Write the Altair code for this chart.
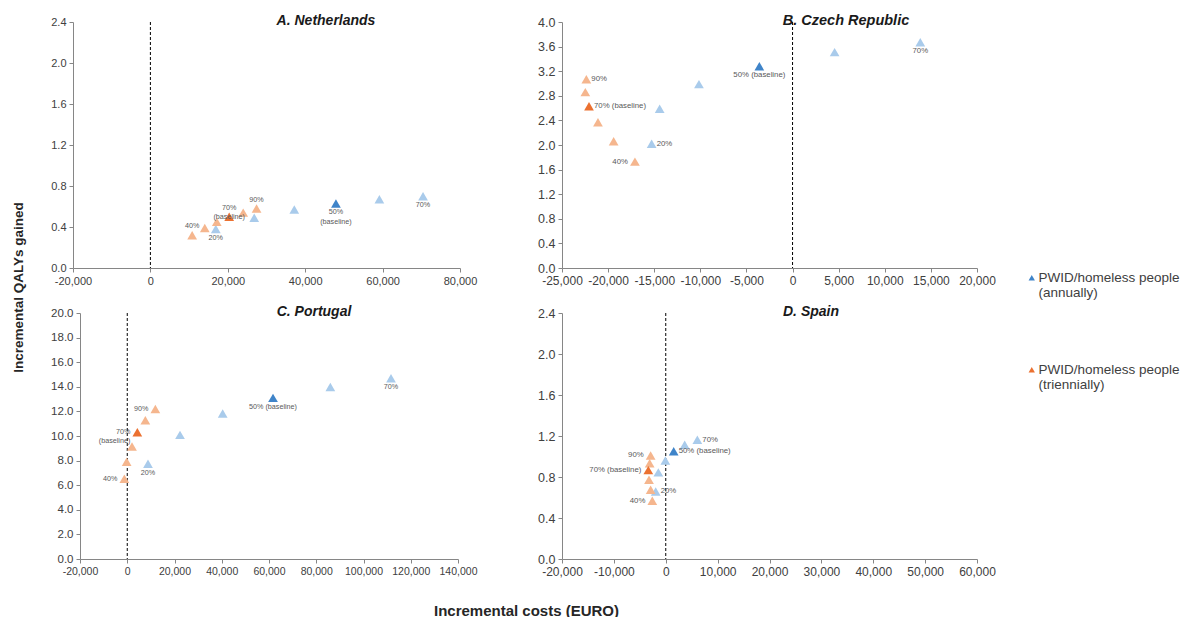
import altair as alt
import pandas as pd

FONT = "Liberation Sans"

# ---------------- data ----------------
panel_titles = ["A. Netherlands", "B. Czech Republic", "C. Portugal", "D. Spain"]
series_names = ["annually", "triennially"]

# Netherlands
nl_annual_cost = [16900, 26830, 37180, 47940, 59170, 70450]
nl_annual_qaly = [0.38, 0.49, 0.57, 0.63, 0.67, 0.70]
nl_tri_cost = [10790, 14050, 17150, 20360, 23980, 27430]
nl_tri_qaly = [0.32, 0.39, 0.45, 0.50, 0.54, 0.58]
nl_annual_labels = ["20%", "", "", "50%\n(baseline)", "", "70%"]
nl_tri_labels = ["40%", "", "", "70%\n(baseline)", "", "90%"]

# Czech Republic
cz_annual_cost = [-15280, -14410, -10150, -3600, 4560, 13850]
cz_annual_qaly = [2.02, 2.59, 2.99, 3.28, 3.51, 3.67]
cz_tri_cost = [-17090, -19400, -21100, -22070, -22470, -22360]
cz_tri_qaly = [1.73, 2.06, 2.37, 2.63, 2.86, 3.07]
cz_annual_labels = ["20%", "", "", "50% (baseline)", "", "70%"]
cz_tri_labels = ["40%", "", "", "70% (baseline)", "", "90%"]

# Portugal
pt_annual_cost = [8780, 22330, 40390, 61700, 85960, 111640]
pt_annual_qaly = [7.74, 10.09, 11.83, 13.10, 13.99, 14.69]
pt_tri_cost = [-1230, -250, 2010, 4270, 7660, 11890]
pt_tri_qaly = [6.52, 7.90, 9.15, 10.31, 11.28, 12.20]
pt_annual_labels = ["20%", "", "", "50% (baseline)", "", "70%"]
pt_tri_labels = ["40%", "", "", "70%\n(baseline)", "", "90%"]

# Spain
es_annual_cost = [-1940, -1430, -80, 1530, 3650, 6090]
es_annual_qaly = [0.659, 0.845, 0.961, 1.052, 1.114, 1.163]
es_tri_cost = [-2590, -2910, -3230, -3360, -3100, -2910]
es_tri_qaly = [0.568, 0.676, 0.773, 0.867, 0.935, 1.010]
es_annual_labels = ["20%", "", "", "50% (baseline)", "", "70%"]
es_tri_labels = ["40%", "", "", "70% (baseline)", "", "90%"]

# axis ticks
nl_xticks = [-20000, 0, 20000, 40000, 60000, 80000]
nl_yticks = [0.0, 0.4, 0.8, 1.2, 1.6, 2.0, 2.4]
cz_xticks = [-25000, -20000, -15000, -10000, -5000, 0, 5000, 10000, 15000, 20000]
cz_yticks = [0.0, 0.4, 0.8, 1.2, 1.6, 2.0, 2.4, 2.8, 3.2, 3.6, 4.0]
pt_xticks = [-20000, 0, 20000, 40000, 60000, 80000, 100000, 120000, 140000]
pt_yticks = [0.0, 2.0, 4.0, 6.0, 8.0, 10.0, 12.0, 14.0, 16.0, 18.0, 20.0]
es_xticks = [-20000, -10000, 0, 10000, 20000, 30000, 40000, 50000, 60000]
es_yticks = [0.0, 0.4, 0.8, 1.2, 1.6, 2.0, 2.4]

# label placement (style)
nl_annual_pos = ["below"] * 6
nl_tri_pos = ["above"] * 6
cz_annual_pos = ["right", "", "", "below", "", "below"]
cz_tri_pos = ["left", "", "", "right", "", "right"]
pt_annual_pos = ["below"] * 6
pt_tri_pos = ["left"] * 6
es_annual_pos = ["right"] * 6
es_tri_pos = ["left"] * 6

# ---------------- styles ----------------
BLUE_L, BLUE_D = "#A9CBEB", "#3F84C9"
OR_L, OR_D = "#F5B68E", "#EB7131"
cat_domain = ["a_light", "t_light", "annually", "triennially"]
cat_range = [BLUE_L, OR_L, BLUE_D, OR_D]

legend = alt.Legend(
    values=["annually", "triennially"],
    labelExpr="['PWID/homeless people', '(' + datum.label + ')']",
    title=None,
)

POS = {
    "above": dict(align="center", baseline="bottom", dx=0, dy=-5),
    "below": dict(align="center", baseline="top", dx=0, dy=5),
    "left": dict(align="right", baseline="middle", dx=-7, dy=0),
    "right": dict(align="left", baseline="middle", dx=5, dy=0),
}


def build_table(ac, aq, tc, tq, al, tl, ap, tp):
    rows = []
    for i in range(6):
        rows.append(dict(cost=ac[i], qaly=aq[i],
                         cat="annually" if i == 3 else "a_light",
                         label=al[i], pos=ap[i], order=0 if i != 3 else 1))
    for i in range(6):
        rows.append(dict(cost=tc[i], qaly=tq[i],
                         cat="triennially" if i == 3 else "t_light",
                         label=tl[i], pos=tp[i], order=0 if i != 3 else 1))
    return pd.DataFrame(rows)


def xlab_expr():
    return "replace(format(datum.value, ','), '\u2212', '-')"


def panel(df, title, title_x, width, xticks, yticks, xfs, yfs, lab_fs, title_fs,
          ytitle=None, xtitle=None, inset=0):
    xaxis_kw = dict(values=xticks, labelExpr=xlab_expr(), grid=False,
                    labelFontSize=xfs, title=None, labelOverlap=False,
                    labelFlush=False, labelBound=False, tickCount=len(xticks))
    if xtitle:
        xaxis_kw.update(xtitle)
    yaxis_kw = dict(values=yticks, format=".1f", grid=False,
                    labelFontSize=yfs, title=None, labelOverlap=False,
                    labelFlush=False, labelBound=False, tickCount=len(yticks))
    if inset:
        yaxis_kw["offset"] = -inset
    if ytitle:
        yaxis_kw.update(ytitle)
    xscale = dict(domain=[xticks[0], xticks[-1]], nice=False)
    if inset:
        xscale["range"] = [inset, width]
    x = alt.X("cost:Q", scale=alt.Scale(**xscale), axis=alt.Axis(**xaxis_kw))
    y = alt.Y("qaly:Q", scale=alt.Scale(domain=[yticks[0], yticks[-1]], nice=False),
              axis=alt.Axis(**yaxis_kw))
    base = alt.Chart(df)
    rule = alt.Chart(pd.DataFrame({"cost": [0]})).mark_rule(
        color="black", strokeDash=[3, 2], strokeWidth=1
    ).encode(x=x)
    pts = base.mark_point(shape="triangle-up", filled=True, size=95, opacity=1).encode(
        x=x, y=y,
        color=alt.Color("cat:N", scale=alt.Scale(domain=cat_domain, range=cat_range),
                        legend=legend),
        order=alt.Order("order:Q"),
    )
    layers = [rule, pts]
    for p, kw in POS.items():
        layers.append(
            base.transform_filter(f"datum.pos == '{p}' && datum.label != ''")
            .mark_text(font=FONT, fontSize=lab_fs, color="#595959", lineBreak="\n",
                       **kw)
            .encode(x=x, y=y, text="label:N")
        )
    ttl = alt.Chart(pd.DataFrame({"t": [title]})).mark_text(
        font=FONT, fontSize=title_fs, fontWeight="bold", fontStyle="italic",
        color="#1a1a1a", align="center", baseline="middle"
    ).encode(x=alt.value(title_x), y=alt.value(-1), text="t:N")
    layers.append(ttl)
    return alt.layer(*layers).properties(width=width, height=246)


nl = build_table(nl_annual_cost, nl_annual_qaly, nl_tri_cost, nl_tri_qaly,
                 nl_annual_labels, nl_tri_labels, nl_annual_pos, nl_tri_pos)
cz = build_table(cz_annual_cost, cz_annual_qaly, cz_tri_cost, cz_tri_qaly,
                 cz_annual_labels, cz_tri_labels, cz_annual_pos, cz_tri_pos)
pt = build_table(pt_annual_cost, pt_annual_qaly, pt_tri_cost, pt_tri_qaly,
                 pt_annual_labels, pt_tri_labels, pt_annual_pos, pt_tri_pos)
es = build_table(es_annual_cost, es_annual_qaly, es_tri_cost, es_tri_qaly,
                 es_annual_labels, es_tri_labels, es_annual_pos, es_tri_pos)

A = panel(nl, panel_titles[0], 253, 387, nl_xticks, nl_yticks, 11, 11, 7.2, 14,
          ytitle=dict(title="Incremental QALYs gained", titleX=-55, titleY=265,
                      titleAngle=270, titleBaseline="middle", titleAlign="center",
                      titleFontSize=13.5, titleFontWeight="bold"))
B = panel(cz, panel_titles[1], 284, 415, cz_xticks, cz_yticks, 12, 12.5, 7.8, 14.5)
C = panel(pt, panel_titles[2], 241, 385, pt_xticks, pt_yticks, 10.5, 11.5, 7.2, 14,
          xtitle=dict(title="Incremental costs (EURO)", titleX=453, titleY=51,
                      titleBaseline="middle", titleAlign="center",
                      titleFontSize=15, titleFontWeight="bold"),
          inset=7)
D = panel(es, panel_titles[3], 249, 415, es_xticks, es_yticks, 12, 12.5, 7.8, 14)

chart = (
    alt.concat(A, B, C, D, columns=2, spacing={"row": 45, "column": 102},
               bounds="flush")
    .properties(padding={"left": 11, "top": 13, "right": 0, "bottom": 0},
                background="white")
    .configure_view(stroke=None)
    .configure_axis(domainColor="#868686", tickColor="#868686", tickSize=4,
                    labelColor="#404040", labelFont=FONT, titleFont=FONT,
                    titleColor="#262626", labelPadding=3, labelOverlap=False)
    .configure_legend(orient="none", legendX=952, legendY=249, direction="vertical",
                      symbolType="triangle-up", symbolSize=40, symbolStrokeWidth=0,
                      labelFont=FONT, labelFontSize=13.5, labelColor="#404040",
                      rowPadding=62, labelOffset=0, labelLimit=300, padding=0)
)

chart.save("out.html", embed_options={"renderer": "svg", "actions": False})
